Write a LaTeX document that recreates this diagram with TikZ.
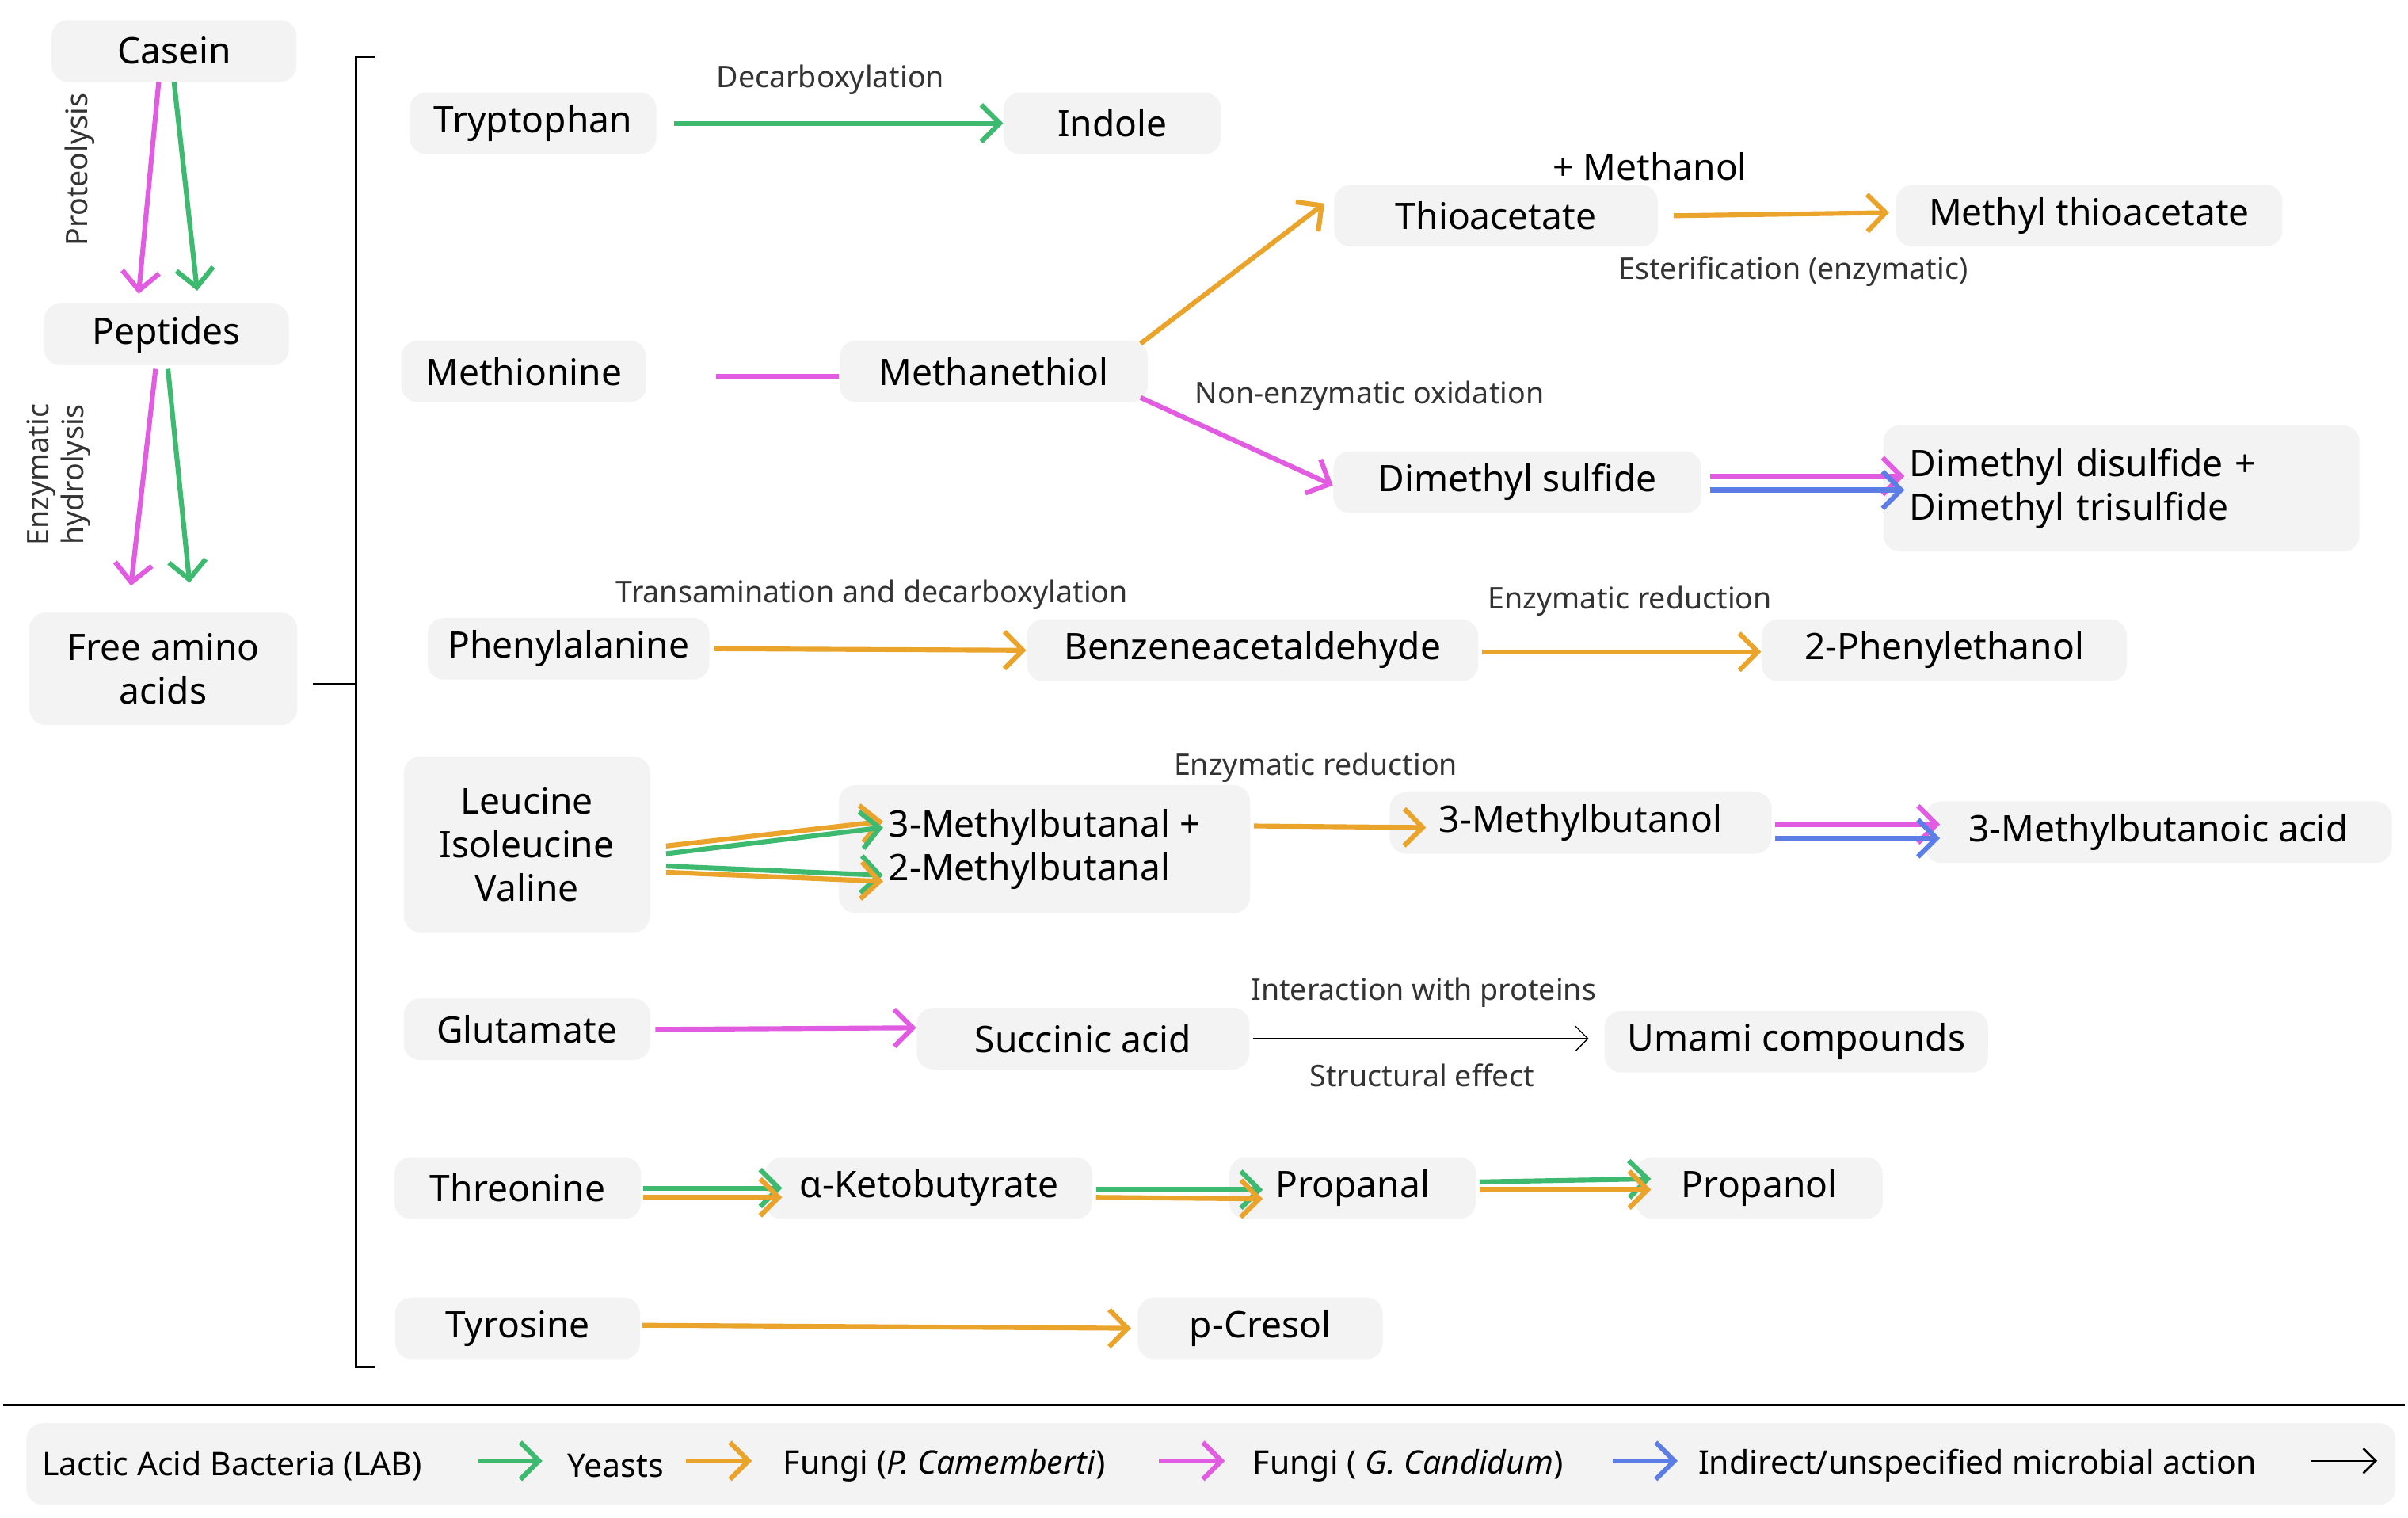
\documentclass[tikz,border=0pt]{standalone}
\usepackage{fontspec}
\setmainfont{Noto Sans}
\usetikzlibrary{positioning,calc,arrows.meta}
\definecolor{labgreen}{RGB}{62,186,112}
\definecolor{yeastorange}{RGB}{234,164,44}
\definecolor{camembpink}{RGB}{226,92,226}
\definecolor{candblue}{RGB}{92,124,230}
\definecolor{boxgray}{RGB}{243,243,243}
\tikzstyle{box} = [fill=boxgray,rounded corners=6pt,minimum height=0.8cm,font=\fontsize{13.5}{16}\selectfont,align=center,inner sep=2pt]
\tikzstyle{lbl} = [font=\fontsize{11}{13}\selectfont,text=black!80]
\tikzstyle{flow} = [line width=1.8pt,-{Straight Barb[length=2.4mm,width=4.8mm]}]
\tikzstyle{lab} = [flow,labgreen]
\tikzstyle{yst} = [flow,yeastorange]
\tikzstyle{pca} = [flow,camembpink]
\tikzstyle{gca} = [flow,candblue]
\tikzstyle{ind} = [thin,-{Straight Barb[length=1.6mm,width=3.2mm]}]
\tikzstyle{legtxt} = [font=\fontsize{12}{14}\selectfont,anchor=west,inner sep=0pt]
\begin{document}
\begin{tikzpicture}[x=0.02cm,y=-0.02cm]
	\useasboundingbox (0,0) rectangle (1563,985);
	% sources
	\node[box,minimum width=3.18cm] (cas) at (113,33) {Casein};
	\node[box,minimum width=3.18cm] (pep) at (108,217) {Peptides};
	\node[box,minimum width=3.48cm,minimum height=1.46cm] (faa) at (106,434) {Free amino\\acids};
	\draw[pca] ($(cas.south)+(-10,0)$) -- ($(pep.north)+(-18,-6)$);
	\draw[lab] ($(cas.south)+(0,0)$) -- ($(pep.north)+(20,-8)$);
	\draw[pca] ($(pep.south)+(-7,2)$) -- ($(faa.north)+(-21,-17)$);
	\draw[lab] ($(pep.south)+(1,2)$) -- ($(faa.north)+(17,-19)$);
	\node[lbl,rotate=90] (prot) at (52,110) {Proteolysis};
	\node[lbl,rotate=90,align=center] (hyd) at (38,308) {Enzymatic\\hydrolysis};
	\draw[thick] (243,37) -- (231,37) -- (231,887) -- (243,887);
	\draw[thick] (faa.east) ++(10,10) -- (231,444);
	% amino acids and products
	\node[box,minimum width=3.2cm] (trp) at (346,80) {Tryptophan};
	\node[box,minimum width=2.82cm] (ind) at (722,80) {Indole};
	\node[box,minimum width=4.2cm] (tha) at (971,140) {Thioacetate};
	\node[box,minimum width=5.02cm] (mta) at (1356,140) {Methyl thioacetate};
	\node[box,minimum width=3.18cm] (met) at (340,241) {Methionine};
	\node[box,minimum width=4cm] (mth) at (645,241) {Methanethiol};
	\node[box,minimum width=4.78cm] (dms) at (985,313) {Dimethyl sulfide};
	\node[box,minimum width=6.18cm,minimum height=1.6cm,align=left,text width=5.5cm,inner sep=0.3cm] (dmd) at (1377,317) {Dimethyl disulfide +\\Dimethyl trisulfide};
	\node[box,minimum width=3.66cm] (phe) at (369,421) {Phenylalanine};
	\node[box,minimum width=5.86cm] (bza) at (813,422) {Benzeneacetaldehyde};
	\node[box,minimum width=4.74cm] (phl) at (1262,422) {2-Phenylethanol};
	\node[box,minimum width=3.2cm,minimum height=2.28cm] (liv) at (342,548) {Leucine\\Isoleucine\\Valine};
	\node[box,minimum width=5.34cm,minimum height=1.66cm,align=left] (mbl) at (678,551) {3-Methylbutanal +\\2-Methylbutanal};
	\node[box,minimum width=4.96cm] (mbo) at (1026,534) {3-Methylbutanol};
	\node[box,minimum width=6.06cm] (mba) at (1401,540) {3-Methylbutanoic acid};
	\node[box,minimum width=3.2cm] (glu) at (342,668) {Glutamate};
	\node[box,minimum width=4.32cm] (suc) at (703,674) {Succinic acid};
	\node[box,minimum width=4.98cm] (uma) at (1166,676) {Umami compounds};
	\node[box,minimum width=3.2cm] (thr) at (336,771) {Threonine};
	\node[box,minimum width=4.24cm] (kbt) at (603,771) {α-Ketobutyrate};
	\node[box,minimum width=3.2cm] (prl) at (878,771) {Propanal};
	\node[box,minimum width=3.2cm] (pro) at (1142,771) {Propanol};
	\node[box,minimum width=3.18cm] (tyr) at (336,862) {Tyrosine};
	\node[box,minimum width=3.18cm] (cre) at (818,862) {p-Cresol};
	% connectors
	\draw[lab] ($(trp.east)+(11,0)$) -- (ind.west);
	\draw[line width=1.8pt,camembpink] ($(met.east)+(45,3)$) -- ($(mth.west)+(0,3)$);
	\draw[yst] ($(mth.east)+(-5,-18)$) -- ($(tha.west)+(-6,-8)$);
	\draw[pca] ($(mth.east)+(-5,17)$) -- ($(dms.west)+(0,2)$);
	\draw[yst] ($(tha.east)+(10,0)$) -- ($(mta.west)+(-4,-2)$);
	\draw[pca] ($(dms.east)+(5,-4)$) -- ($(dmd.west)+(14,-8)$);
	\draw[gca] ($(dms.east)+(5,5)$) -- ($(dmd.west)+(14,1)$);
	\draw[yst] ($(phe.east)+(3,0)$) -- (bza.west);
	\draw[yst] ($(bza.east)+(2,1)$) -- ($(phl.west)+(0,1)$);
	\draw[yst] ($(liv.east)+(10,1)$) -- ($(mbl.west)+(29,-18)$);
	\draw[lab] ($(liv.east)+(10,6)$) -- ($(mbl.west)+(29,-14)$);
	\draw[lab] ($(liv.east)+(10,14)$) -- ($(mbl.west)+(29,17)$);
	\draw[yst] ($(liv.east)+(10,18)$) -- ($(mbl.west)+(29,21)$);
	\draw[yst] ($(mbl.east)+(2,-15)$) -- ($(mbo.west)+(24,3)$);
	\draw[pca] ($(mbo.east)+(2,1)$) -- ($(mba.west)+(10,-5)$);
	\draw[gca] ($(mbo.east)+(2,10)$) -- ($(mba.west)+(10,4)$);
	\draw[pca] ($(glu.east)+(3,0)$) -- ($(suc.west)+(0,-7)$);
	\draw[ind] ($(suc.east)+(2,0)$) -- ($(uma.west)+(-10,-2)$);
	\draw[lab] ($(thr.east)+(1,0)$) -- ($(kbt.west)+(11,0)$);
	\draw[yst] ($(thr.east)+(1,6)$) -- ($(kbt.west)+(11,6)$);
	\draw[lab] ($(kbt.east)+(2,1)$) -- ($(prl.west)+(22,1)$);
	\draw[yst] ($(kbt.east)+(2,6)$) -- ($(prl.west)+(22,7)$);
	\draw[lab] ($(prl.east)+(2,-4)$) -- ($(pro.west)+(10,-6)$);
	\draw[yst] ($(prl.east)+(2,1)$) -- ($(pro.west)+(10,1)$);
	\draw[yst] ($(tyr.east)+(1,-2)$) -- ($(cre.west)+(-4,0)$);
	% labels
	\node[lbl] (dcx) at (539,52) {Decarboxylation};
	\node[font=\fontsize{13.5}{16}\selectfont] (mol) at (1071,108) {+ Methanol};
	\node[lbl] (est) at (1164,176) {Esterification (enzymatic)};
	\node[lbl] (nox) at (889,257) {Non-enzymatic oxidation};
	\node[lbl] (tad) at (566,386) {Transamination and decarboxylation};
	\node[lbl] (er1) at (1058,390) {Enzymatic reduction};
	\node[lbl] (er2) at (854,498) {Enzymatic reduction};
	\node[lbl] (iwp) at (924,644) {Interaction with proteins};
	\node[lbl] (str) at (923,698) {Structural effect};
	% legend
	\draw[thick] (2,912) -- (1561,912);
	\node[box,minimum width=30.76cm,minimum height=1.06cm] (leg) at (786,950) {};
	\node[legtxt] (l1) at (27,951) {Lactic Acid Bacteria (LAB)};
	\coordinate (s1) at (310,948); \coordinate (a1) at (352,948);
	\draw[lab] (s1) -- (a1);
	\node[legtxt] (l2) at (368,951) {Yeasts};
	\coordinate (s2) at (445,948); \coordinate (a2) at (488,948);
	\draw[yst] (s2) -- (a2);
	\node[legtxt] (l3) at (508,951) {Fungi (\textit{P. Camemberti})};
	\coordinate (s3) at (752,948); \coordinate (a3) at (795,948);
	\draw[pca] (s3) -- (a3);
	\node[legtxt] (l4) at (813,951) {Fungi ( \textit{G. Candidum})};
	\coordinate (s4) at (1047,948); \coordinate (a4) at (1089,948);
	\draw[gca] (s4) -- (a4);
	\node[legtxt] (l5) at (1102,951) {Indirect/unspecified microbial action};
	\coordinate (s5) at (1500,948); \coordinate (a5) at (1543,948);
	\draw[ind,thick] (s5) -- (a5);
\end{tikzpicture}
\end{document}
